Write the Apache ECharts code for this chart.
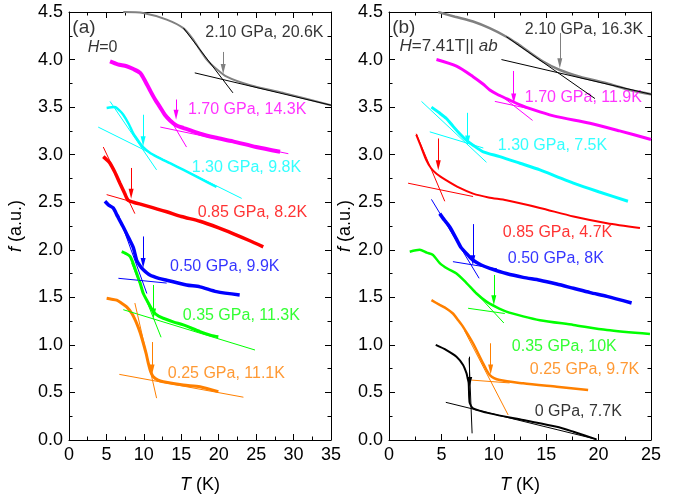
<!DOCTYPE html>
<html><head><meta charset="utf-8">
<script src="https://cdn.jsdelivr.net/npm/echarts@6/dist/echarts.min.js"></script>
<style>html,body{margin:0;padding:0;background:#fff}#c{width:693px;height:502px}</style>
</head><body><div id="c"></div>
<script>
// ---------- Panel (a): H = 0 ----------
const a210 = [[7.25,4.50],[9.9,4.49],[13.05,4.42],[15.27,4.33],[16.5,4.22],[17.5,4.10],[18.4,4.00],[19.28,3.93],[21.07,3.82],[24.2,3.73],[28.6,3.65],[35,3.52]];
const a170 = [[5.48,3.98],[6.5,3.95],[7.7,3.93],[8.6,3.90],[9.5,3.86],[10.2,3.77],[10.8,3.68],[11.5,3.58],[12.16,3.50],[12.8,3.42],[13.5,3.36],[14.3,3.31],[15.3,3.28],[17.5,3.22],[19.5,3.18],[21.9,3.14],[25,3.08],[28.2,3.03]];
const a130 = [[5.03,3.49],[6.1,3.50],[6.8,3.46],[7.25,3.42],[8.0,3.32],[8.6,3.22],[9.3,3.14],[9.9,3.08],[10.8,3.02],[11.7,2.98],[13.5,2.91],[15.3,2.84],[17.5,2.75],[19.7,2.66]];
const a085 = [[4.58,2.98],[5.0,2.95],[5.48,2.91],[6.1,2.82],[6.8,2.70],[7.4,2.60],[7.9,2.52],[8.6,2.50],[10,2.47],[13.05,2.40],[15,2.35],[17.5,2.30],[20,2.23],[21.9,2.17],[24,2.10],[25.95,2.03]];
const a050 = [[4.8,2.51],[5.3,2.47],[5.9,2.44],[6.5,2.35],[7.25,2.24],[8.0,2.12],[8.6,2.02],[9.04,1.89],[9.5,1.83],[9.93,1.79],[10.8,1.735],[12,1.70],[13.05,1.68],[15.7,1.63],[17.5,1.61],[19.7,1.56],[22.8,1.525]];
const a035 = [[7.04,1.98],[7.6,1.96],[8.15,1.93],[8.6,1.85],[9.04,1.75],[9.5,1.65],[9.93,1.54],[10.6,1.44],[11.26,1.35],[12.0,1.30],[12.6,1.28],[14,1.24],[15.27,1.21],[17.5,1.14],[19,1.10],[19.95,1.086]];
const a025 = [[5.03,1.49],[5.7,1.48],[6.37,1.47],[7.0,1.44],[7.7,1.40],[8.4,1.33],[9.04,1.227],[9.5,1.13],[9.93,1.017],[10.3,0.91],[10.6,0.806],[10.9,0.72],[11.26,0.666],[11.9,0.63],[12.6,0.613],[15.27,0.578],[17.5,0.56],[19.95,0.508]];
// fit lines (two end points each)
const aFits = {
  a210: [[[15.3,4.33],[21.9,3.65]], [[16.8,3.86],[35,3.52]]],
  a170: [[[13.3,3.40],[15.7,3.08]], [[12.2,3.29],[29.3,3.01]]],
  a130: [[[5.48,3.56],[11.7,2.84]], [[3.9,3.29],[23.07,2.54]]],
  a085: [[[4.58,3.08],[8.8,2.38]], [[5.03,2.58],[13,2.40]]],
  a050: [[[6.6,2.37],[10.4,1.54]], [[6.6,1.70],[13.05,1.65]]],
  a035: [[[8.37,1.86],[12.3,1.08]], [[7.25,1.37],[24.85,0.946]]],
  a025: [[[8.8,1.44],[11.7,0.44]], [[6.72,0.69],[23.3,0.45]]]
};
// arrows: [T, f start, f end]
const aArrows = {a210:[20.6,4.08,3.90], a170:[14.3,3.58,3.42], a130:[9.9,3.42,3.14], a085:[8.3,2.86,2.59], a050:[9.9,2.14,1.86], a035:[11.3,1.63,1.33], a025:[11.1,1.03,0.74]};
const aLabels = {a210:'2.10 GPa, 20.6K', a170:'1.70 GPa, 14.3K', a130:'1.30 GPa, 9.8K', a085:'0.85 GPa, 8.2K', a050:'0.50 GPa, 9.9K', a035:'0.35 GPa, 11.3K', a025:'0.25 GPa, 11.1K'};
const aLabelAt = {a210:[18.2,4.28], a170:[15.9,3.47], a130:[16.4,2.86], a085:[17.2,2.39], a050:[13.5,1.82], a035:[15.2,1.31], a025:[13.2,0.70]};

// ---------- Panel (b): H = 7.41 T || ab ----------
const b210 = [[4.68,4.50],[6.3,4.45],[8.02,4.40],[9.6,4.33],[11.2,4.24],[12.2,4.17],[13.1,4.10],[14.7,3.98],[16.3,3.89],[18.2,3.82],[20.76,3.75],[23,3.68],[25,3.635]];
const b170 = [[4.53,4.0],[6.44,3.93],[8.02,3.82],[9.0,3.74],[9.62,3.68],[10.4,3.63],[11.2,3.59],[12.8,3.51],[14.4,3.45],[16.0,3.40],[19.17,3.33],[22,3.25],[25,3.16]];
const b130 = [[4.05,3.50],[4.8,3.44],[5.48,3.38],[6.1,3.30],[6.75,3.22],[7.4,3.15],[8.02,3.10],[9.0,3.03],[10.57,2.98],[12.5,2.91],[14.4,2.84],[16,2.77],[17.6,2.70],[20,2.61],[22.8,2.51]];
const b085 = [[2.6,3.21],[3.0,3.10],[3.57,2.94],[4.0,2.86],[4.53,2.80],[5.48,2.73],[6.75,2.65],[8.02,2.59],[9.5,2.55],[11.2,2.52],[14.4,2.44],[17.6,2.35],[20.8,2.28],[23.95,2.23]];
const b050 = [[4.84,2.38],[5.3,2.31],[5.8,2.24],[6.4,2.12],[6.9,2.02],[7.4,1.96],[8.02,1.89],[8.8,1.84],[9.62,1.805],[11.2,1.75],[12.8,1.71],[14.4,1.68],[16,1.64],[17.6,1.595],[19.2,1.55],[20.8,1.51],[23.15,1.44]];
const b035 = [[1.98,1.98],[2.93,2.0],[3.6,1.97],[4.2,1.945],[4.84,1.86],[5.6,1.80],[6.44,1.75],[7.4,1.65],[8.35,1.54],[9.3,1.455],[10.2,1.40],[11.2,1.35],[12.8,1.30],[14.4,1.26],[17.6,1.21],[20.8,1.157],[24.9,1.115]];
const b025 = [[4.05,1.47],[4.84,1.42],[5.5,1.38],[6.1,1.33],[6.6,1.26],[7.07,1.19],[8.02,1.017],[8.98,0.806],[9.62,0.683],[10.57,0.63],[12.8,0.596],[16.0,0.56],[19.0,0.526]];
const b000 = [[4.46,1.0],[5.48,0.946],[6.44,0.876],[7.07,0.789],[7.4,0.70],[7.5,0.65],[7.6,0.60],[7.65,0.45],[7.71,0.386],[8.02,0.333],[9.62,0.28],[12.8,0.21],[16.0,0.14],[17.6,0.087],[19.8,0.007]];
const bFits = {
  b210: [[[11.2,4.24],[19.65,3.59]], [[10.73,4.0],[25,3.635]]],
  b170: [[[10.5,3.637],[13.7,3.36]], [[10.1,3.56],[13.5,3.48]]],
  b130: [[[3.1,3.56],[9.3,2.92]], [[3.89,3.24],[9.0,3.07]]],
  b085: [[[2.6,3.22],[5.32,2.51]], [[1.82,2.70],[8.02,2.56]]],
  b050: [[[4.05,2.53],[8.6,1.70]], [[6.1,1.875],[10.3,1.80]]],
  b035: [[[8.02,1.58],[10.96,1.23]], [[7.55,1.385],[11.05,1.33]]],
  b025: [[[7.2,1.15],[11.37,0.263]], [[7.87,0.63],[11.5,0.60]]],
  b000: [[[7.64,0.86],[7.93,0.07]], [[5.42,0.396],[19.8,0.007]]]
};
const bArrows = {b210:[16.3,4.28,3.96], b170:[11.9,3.88,3.59], b130:[7.5,3.44,3.15], b085:[4.7,3.17,2.89], b050:[8.0,2.27,1.89], b035:[10.0,1.735,1.47], b025:[9.7,1.017,0.74], b000:[7.7,0.876,0.61]};
const bLabels = {b210:'2.10 GPa, 16.3K', b170:'1.70 GPa, 11.9K', b130:'1.30 GPa, 7.5K', b085:'0.85 GPa, 4.7K', b050:'0.50 GPa, 8K', b035:'0.35 GPa, 10K', b025:'0.25 GPa, 9.7K', b000:'0 GPa, 7.7K'};
const bLabelAt = {b210:[12.96,4.31], b170:[12.96,3.60], b130:[10.38,3.10], b085:[10.86,2.18], b050:[11.34,1.91], b035:[11.72,0.98], b025:[13.44,0.736], b000:[13.9,0.30]};

const xTicksA = {min:0, max:35, interval:5};
const xTicksB = {min:0, max:25, interval:5};
const yTicks = {min:0, max:4.5, interval:0.5};

// ---------- styling ----------
const FONT = 'Liberation Sans, Arial, sans-serif';
const colors = {
  a210:'#808080', a170:'#ff00ff', a130:'#00ffff', a085:'#ff0000', a050:'#0000ff', a035:'#00ff00', a025:'#ff8000',
  b210:'#808080', b170:'#ff00ff', b130:'#00ffff', b085:'#ff0000', b050:'#0000ff', b035:'#00ff00', b025:'#ff8000', b000:'#000000'
};
const fitColors = {a210:'#000000', b210:'#000000'};
const labelColors = {a210:'#000000', b210:'#000000'};
const widths = {a210:2, a170:4, a130:2.5, a085:3.5, a050:3.5, a035:3, a025:3, b210:2.5, b170:3, b130:3, b085:2, b050:3.5, b035:2.5, b025:2.5, b000:2};
const curvesA = {a210, a170, a130, a085, a050, a035, a025};
const curvesB = {b210, b170, b130, b085, b050, b035, b025, b000};

const series = [];
function addPanel(curves, fits, arrows, labels, labelAt, idx) {
  for (const k in curves) {
    const c = colors[k];
    series.push({type:'line', xAxisIndex:idx, yAxisIndex:idx, data:curves[k], symbol:'none', smooth:0.25,
      lineStyle:{color:c, width:widths[k]}, z:2, silent:true});
    fits[k].forEach((f, j) => {
      const s = {type:'line', xAxisIndex:idx, yAxisIndex:idx, data:f, symbol:'none',
        lineStyle:{color:fitColors[k] || c, width:1}, z:3, silent:true};
      if (j === 0) {
        const a = arrows[k];
        s.markLine = {silent:true, symbol:['none','triangle'], symbolSize:[5,10], label:{show:false},
          lineStyle:{color:c, width:1, type:'solid'}, animation:false,
          data:[[{coord:[a[0], a[1]]}, {coord:[a[0], a[2]]}]]};
      }
      series.push(s);
    });
    series.push({type:'scatter', xAxisIndex:idx, yAxisIndex:idx, data:[labelAt[k]], symbolSize:0, silent:true,
      label:{show:true, position:'right', distance:0, formatter:labels[k], color:labelColors[k] || c, fontSize:16, fontFamily:FONT}});
  }
}
addPanel(curvesA, aFits, aArrows, aLabels, aLabelAt, 0);
addPanel(curvesB, bFits, bArrows, bLabels, bLabelAt, 1);

const rich = {i:{fontStyle:'italic', fontSize:16, fontFamily:FONT, color:'#000'}, n:{fontSize:16, fontFamily:FONT, color:'#000'},
  m:{fontSize:17, fontFamily:FONT, color:'#000'}, mi:{fontStyle:'italic', fontSize:17, fontFamily:FONT, color:'#000'},
  p:{fontSize:19, fontFamily:FONT, color:'#000'}};
const panelTexts = [
  {idx:0, at:[0.45,4.33], text:'{p|(a)}'},
  {idx:0, at:[2.5,4.13], text:'{i|H}{n|=0}'},
  {idx:1, at:[0.3,4.33], text:'{p|(b)}'},
  {idx:1, at:[1.0,4.14], text:'{mi|H}{m|=7.41T|| }{mi|ab}'}
];
panelTexts.forEach(t => series.push({type:'scatter', xAxisIndex:t.idx, yAxisIndex:t.idx, data:[t.at], symbolSize:0, silent:true,
  label:{show:true, position:'right', distance:0, formatter:t.text, rich}}));

const tickCommon = {axisLine:{show:true, onZero:false, lineStyle:{color:'#000', width:1}},
  axisTick:{show:true, inside:true, length:6, lineStyle:{color:'#000', width:1}},
  minorTick:{show:true, splitNumber:2, length:3.5, lineStyle:{color:'#000', width:1}},
  splitLine:{show:false}, minorSplitLine:{show:false}};
const nameRich = {i:{fontStyle:'italic', fontSize:18, fontFamily:FONT, color:'#000'}, n:{fontSize:18, fontFamily:FONT, color:'#000'}};
function xAx(grid, t, main) {
  return Object.assign({type:'value', gridIndex:grid, position: main ? 'bottom' : 'top', min:t.min, max:t.max, interval:t.interval,
    axisLabel:{show:main, fontSize:18, fontFamily:FONT, color:'#000', margin:6},
    name: main ? '{i|T}{n| (K)}' : '', nameLocation:'middle', nameGap:36, nameTextStyle:{rich:nameRich}}, tickCommon);
}
function yAx(grid, main, gap) {
  return Object.assign({type:'value', gridIndex:grid, position: main ? 'left' : 'right', min:yTicks.min, max:yTicks.max, interval:yTicks.interval,
    axisLabel:{show:main, fontSize:18, fontFamily:FONT, color:'#000', margin:6, formatter:v => v.toFixed(1)},
    name: main ? '{i|f}{n| (a.u.)}' : '', nameLocation:'middle', nameGap:gap, nameRotate:90, nameTextStyle:{rich:nameRich}}, tickCommon);
}

const option = {
  animation:false,
  backgroundColor:'#fff',
  grid:[{left:69, top:12, width:262, height:428}, {left:389, top:12, width:262, height:428}],
  xAxis:[xAx(0, xTicksA, true), xAx(1, xTicksB, true), xAx(0, xTicksA, false), xAx(1, xTicksB, false)],
  yAxis:[yAx(0, true, 44), yAx(1, true, 34), yAx(0, false, 0), yAx(1, false, 0)],
  series
};
const chart = echarts.init(document.getElementById('c'), null, {renderer:'canvas'});
chart.setOption(option);
</script></body></html>
